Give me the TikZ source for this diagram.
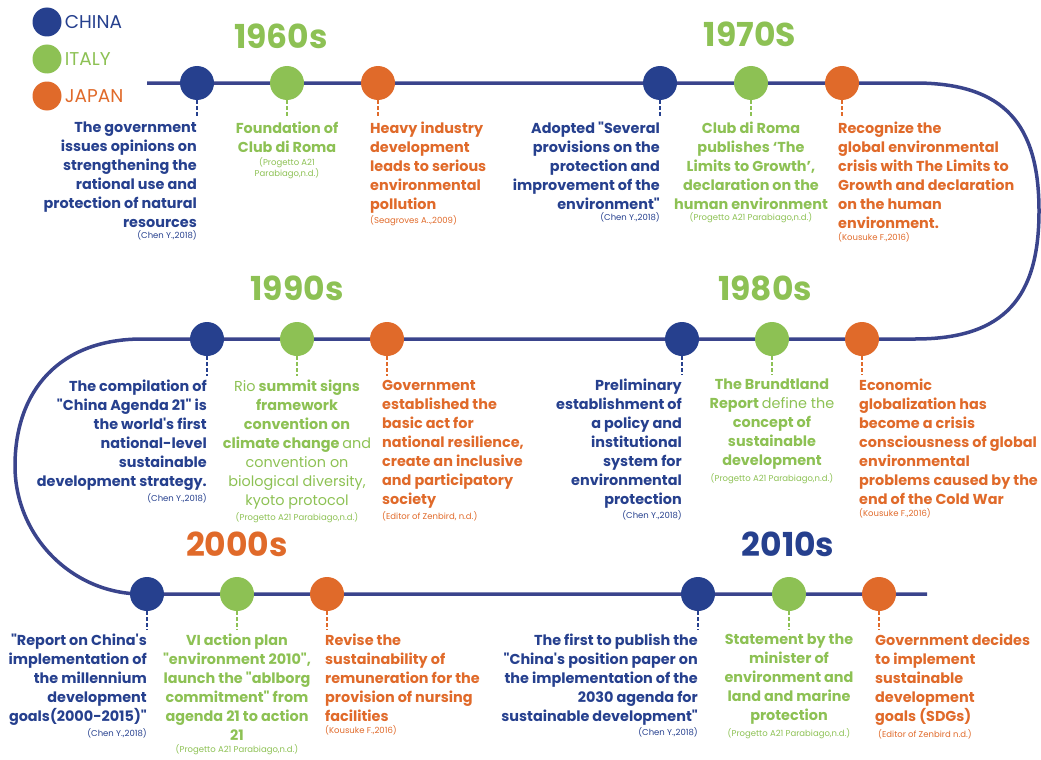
\documentclass[tikz,border=0pt]{standalone}
\usepackage{fontspec}
\setmainfont{Poppins}[Ligatures=TeXOff]
\usepackage{tikz}
\usepackage{xcolor}
\usetikzlibrary{positioning}
\definecolor{cn-blue}{RGB}{38,64,142}
\definecolor{it-green}{RGB}{141,193,84}
\definecolor{jp-orange}{RGB}{224,106,42}
\definecolor{line-blue}{RGB}{58,68,140}
\tikzset{
    event-dot/.style = {circle, inner sep=0pt, minimum size=34pt},
    legend-dot/.style = {circle, inner sep=0pt, minimum size=29pt},
    legend-text/.style = {inner sep=0pt, font=\fontsize{18.5}{18.5}\selectfont},
    event-link/.style = {line width=1.3pt, dash pattern=on 3.5pt off 2.5pt},
    event-text/.style = {inner sep=0pt, font=\fontsize{14.4}{19}\selectfont\bfseries},
    cite-text/.style = {inner sep=0pt, font=\fontsize{8.5}{10}\selectfont},
    year-title/.style = {inner sep=0pt, font=\fontsize{33}{33}\selectfont\bfseries},
}

\begin{document}
\begin{tikzpicture}[x=1pt, y=-1pt]
\useasboundingbox (0,0) rectangle (1041,760);
% legend
\node[legend-dot, fill=cn-blue] (leg-cn) at (47,22) {};
\node[legend-dot, fill=it-green] (leg-it) at (47,59) {};
\node[legend-dot, fill=jp-orange] (leg-jp) at (47,96) {};
\node[legend-text, cn-blue, right=3pt of leg-cn] (leg-cn-txt) {CHINA};
\node[legend-text, it-green, right=3pt of leg-it] (leg-it-txt) {ITALY};
\node[legend-text, jp-orange, right=3pt of leg-jp] (leg-jp-txt) {JAPAN};

% timeline
\draw[line-blue, line width=3.5pt] (147,83) -- (915,83)
    .. controls (1005,83) and (1039,125) .. (1039,211)
    .. controls (1039,297) and (1005,339) .. (915,339) -- (142,339)
    .. controls (60,339) and (15,390) .. (15,466)
    .. controls (15,536) and (72,594) .. (142,594) -- (927,594);

% decade titles
\node[year-title, it-green] (y60) at (281,36) {1960s};
\node[year-title, it-green] (y70) at (750,34) {1970S};
\node[year-title, it-green] (y90) at (297,288) {1990s};
\node[year-title, it-green] (y80) at (765,288) {1980s};
\node[year-title, jp-orange] (y00) at (237,544) {2000s};
\node[year-title, cn-blue] (y10) at (788,544) {2010s};

% 1960s
\node[event-dot, fill=cn-blue] (cn-60) at (197,83) {};
\node[event-dot, fill=it-green] (it-60) at (287,83) {};
\node[event-dot, fill=jp-orange] (jp-60) at (378,83) {};
\node[event-text, cn-blue, align=right, anchor=north east] (cn-60-txt) at ([yshift=-39pt]cn-60.center) {The government\\issues opinions on\\strengthening the\\rational use and\\protection of natural\\resources};
\node[cite-text, cn-blue, below left=2pt and 0pt] (cn-60-cite) at (cn-60-txt.south east) {(Chen Y.,2018)};
\node[event-text, it-green, align=center, anchor=north] (it-60-txt) at ([yshift=-39pt]it-60.center) {Foundation of\\Club di Roma};
\node[cite-text, it-green, align=center, below=4pt] (it-60-cite) at (it-60-txt.south) {(Progetto A21\\Parabiago,n.d.)};
\node[event-text, jp-orange, align=left, anchor=north west] (jp-60-txt) at ([xshift=-8pt, yshift=-39pt]jp-60.center) {Heavy industry\\development\\leads to serious\\environmental\\pollution};
\node[cite-text, jp-orange, below right=2pt and 0pt] (jp-60-cite) at (jp-60-txt.south west) {(Seagroves A..,2009)};

% 1970s
\node[event-dot, fill=cn-blue] (cn-70) at (660,83) {};
\node[event-dot, fill=it-green] (it-70) at (751,83) {};
\node[event-dot, fill=jp-orange] (jp-70) at (842,83) {};
\node[event-text, cn-blue, align=right, anchor=north east] (cn-70-txt) at ([yshift=-39pt]cn-70.center) {Adopted "Several\\provisions on the\\protection and\\improvement of the\\environment"};
\node[cite-text, cn-blue, below left=2pt and 0pt] (cn-70-cite) at (cn-70-txt.south east) {(Chen Y.,2018)};
\node[event-text, it-green, align=center, anchor=north] (it-70-txt) at ([yshift=-39pt]it-70.center) {Club di Roma\\publishes ‘The\\Limits to Growth’,\\declaration on the\\human environment};
\node[cite-text, it-green, below=2pt] (it-70-cite) at (it-70-txt.south) {(Progetto A21 Parabiago,n.d.)};
\node[event-text, jp-orange, align=left, anchor=north west] (jp-70-txt) at ([xshift=-4pt, yshift=-39pt]jp-70.center) {Recognize the\\global environmental\\crisis with The Limits to\\Growth and declaration\\on the human\\environment.};
\node[cite-text, jp-orange, below right=3pt and 0pt] (jp-70-cite) at (jp-70-txt.south west) {(Kousuke F.,2016)};

% 1990s
\node[event-dot, fill=cn-blue] (cn-90) at (207,339) {};
\node[event-dot, fill=it-green] (it-90) at (297,339) {};
\node[event-dot, fill=jp-orange] (jp-90) at (387,339) {};
\node[event-text, cn-blue, align=right, anchor=north east] (cn-90-txt) at ([yshift=-41pt]cn-90.center) {The compilation of\\"China Agenda 21" is\\the world's first\\national-level\\sustainable\\development strategy.};
\node[cite-text, cn-blue, below left=2pt and 0pt] (cn-90-cite) at (cn-90-txt.south east) {(Chen Y.,2018)};
\node[event-text, it-green, align=center, anchor=north] (it-90-txt) at ([yshift=-41pt]it-90.center) {{\mdseries Rio} summit signs\\framework\\convention on\\climate change {\mdseries and}\\{\mdseries convention on}\\{\mdseries biological diversity,}\\{\mdseries kyoto protocol}};
\node[cite-text, it-green, below=3pt] (it-90-cite) at (it-90-txt.south) {(Progetto A21 Parabiago,n.d.)};
\node[event-text, jp-orange, align=left, anchor=north west] (jp-90-txt) at ([xshift=-5pt, yshift=-41pt]jp-90.center) {Government\\established the\\basic act for\\national resilience,\\create an inclusive\\and participatory\\society};
\node[cite-text, jp-orange, below right=3pt and 0pt] (jp-90-cite) at (jp-90-txt.south west) {(Editor of Zenbird, n.d.)};

% 1980s
\node[event-dot, fill=cn-blue] (cn-80) at (682,339) {};
\node[event-dot, fill=it-green] (it-80) at (772,339) {};
\node[event-dot, fill=jp-orange] (jp-80) at (862,339) {};
\node[event-text, cn-blue, align=right, anchor=north east] (cn-80-txt) at ([yshift=-40pt]cn-80.center) {Preliminary\\establishment of\\a policy and\\institutional\\system for\\environmental\\protection};
\node[cite-text, cn-blue, below left=2pt and 0pt] (cn-80-cite) at (cn-80-txt.south east) {(Chen Y.,2018)};
\node[event-text, it-green, align=center, anchor=north] (it-80-txt) at ([yshift=-40pt]it-80.center) {The Brundtland\\Report {\mdseries define the}\\concept of\\sustainable\\development};
\node[cite-text, it-green, below=3pt] (it-80-cite) at (it-80-txt.south) {(Progetto A21 Parabiago,n.d.)};
\node[event-text, jp-orange, align=left, anchor=north west] (jp-80-txt) at ([xshift=-3pt, yshift=-40pt]jp-80.center) {Economic\\globalization has\\become a crisis\\consciousness of global\\environmental\\problems caused by the\\end of the Cold War};
\node[cite-text, jp-orange, below right=3pt and 0pt] (jp-80-cite) at (jp-80-txt.south west) {(Kousuke F.,2016)};

% 2000s
\node[event-dot, fill=cn-blue] (cn-00) at (147,594) {};
\node[event-dot, fill=it-green] (it-00) at (237,594) {};
\node[event-dot, fill=jp-orange] (jp-00) at (327,594) {};
\node[event-text, cn-blue, align=right, anchor=north east] (cn-00-txt) at ([yshift=-40pt]cn-00.center) {"Report on China's\\implementation of\\the millennium\\development\\goals(2000-2015)"};
\node[cite-text, cn-blue, below left=2pt and 0pt] (cn-00-cite) at (cn-00-txt.south east) {(Chen Y.,2018)};
\node[event-text, it-green, align=center, anchor=north] (it-00-txt) at ([yshift=-40pt]it-00.center) {VI action plan\\"environment 2010",\\launch the "ablborg\\commitment" from\\agenda 21 to action\\21};
\node[cite-text, it-green, below=3pt] (it-00-cite) at (it-00-txt.south) {(Progetto A21 Parabiago,n.d.)};
\node[event-text, jp-orange, align=left, anchor=north west] (jp-00-txt) at ([xshift=-2pt, yshift=-40pt]jp-00.center) {Revise the\\sustainability of\\remuneration for the\\provision of nursing\\facilities};
\node[cite-text, jp-orange, below right=3pt and 0pt] (jp-00-cite) at (jp-00-txt.south west) {(Kousuke F.,2016)};

% 2010s
\node[event-dot, fill=cn-blue] (cn-10) at (698,594) {};
\node[event-dot, fill=it-green] (it-10) at (789,594) {};
\node[event-dot, fill=jp-orange] (jp-10) at (879,594) {};
\node[event-text, cn-blue, align=right, anchor=north east] (cn-10-txt) at ([yshift=-40pt]cn-10.center) {The first to publish the\\"China's position paper on\\the implementation of the\\2030 agenda for\\sustainable development"};
\node[cite-text, cn-blue, below left=2pt and 0pt] (cn-10-cite) at (cn-10-txt.south east) {(Chen Y.,2018)};
\node[event-text, it-green, align=center, anchor=north] (it-10-txt) at ([yshift=-40pt]it-10.center) {Statement by the\\minister of\\environment and\\land and marine\\protection};
\node[cite-text, it-green, below=3pt] (it-10-cite) at (it-10-txt.south) {(Progetto A21 Parabiago,n.d.)};
\node[event-text, jp-orange, align=left, anchor=north west] (jp-10-txt) at ([xshift=-4pt, yshift=-40pt]jp-10.center) {Government decides\\to implement\\sustainable\\development\\goals (SDGs)};
\node[cite-text, jp-orange, below right=3pt and 3pt] (jp-10-cite) at (jp-10-txt.south west) {(Editor of Zenbird n.d.)};

% dashed ticks
\foreach \ev/\col in {cn-60/cn-blue, it-60/it-green, jp-60/jp-orange,
                      cn-70/cn-blue, it-70/it-green, jp-70/jp-orange,
                      cn-90/cn-blue, it-90/it-green, jp-90/jp-orange,
                      cn-80/cn-blue, it-80/it-green, jp-80/jp-orange,
                      cn-00/cn-blue, it-00/it-green, jp-00/jp-orange,
                      cn-10/cn-blue, it-10/it-green, jp-10/jp-orange}
    \draw[event-link, \col] (\ev) -- ([yshift=4pt]\ev-txt.north -| \ev);
\end{tikzpicture}
\end{document}
